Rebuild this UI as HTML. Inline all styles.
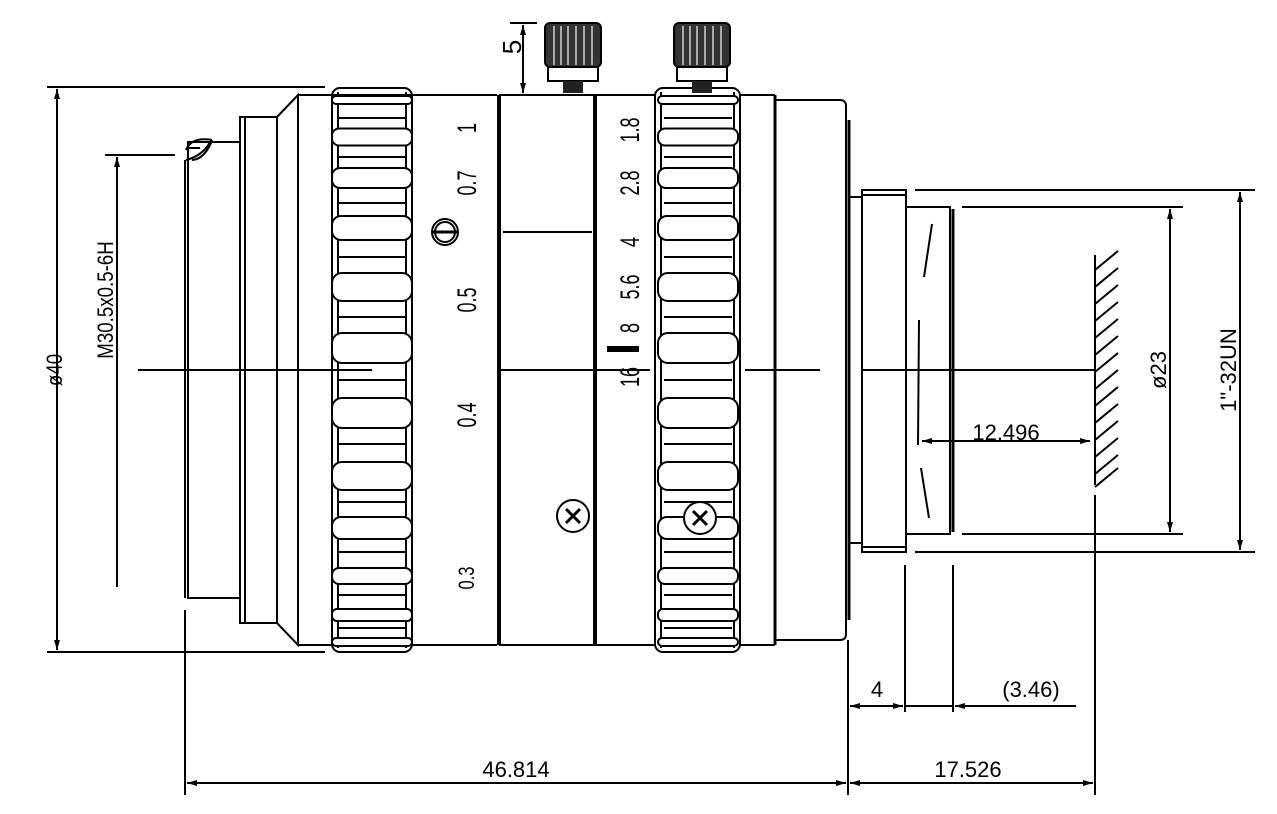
<!DOCTYPE html>
<html><head><meta charset="utf-8"><style>
html,body{margin:0;padding:0;background:#fff;}
svg{display:block;}
text{font-family:"Liberation Sans",sans-serif;fill:#000;}
</style></head><body>
<svg width="1277" height="814" viewBox="0 0 1277 814" xmlns="http://www.w3.org/2000/svg">
<defs>
<marker id="a" viewBox="0 0 10 6" refX="10" refY="3" markerWidth="10" markerHeight="6" orient="auto-start-reverse" markerUnits="userSpaceOnUse"><path d="M0,0 L10,3 L0,6 z" fill="#000"/></marker>
<g id="bumps" fill="#fff" stroke="#000" stroke-width="2">
<rect x="0" y="96" width="80" height="8" rx="4"/>
<rect x="0" y="128.5" width="80" height="17" rx="7"/>
<rect x="0" y="168" width="80" height="20" rx="8"/>
<rect x="0" y="216" width="80" height="24" rx="9"/>
<rect x="0" y="273" width="80" height="28" rx="10"/>
<rect x="0" y="333" width="80" height="30" rx="10"/>
<rect x="0" y="398" width="80" height="30" rx="10"/>
<rect x="0" y="462" width="80" height="28" rx="10"/>
<rect x="0" y="517" width="80" height="22" rx="9"/>
<rect x="0" y="568" width="80" height="16" rx="7"/>
<rect x="0" y="609" width="80" height="12" rx="5"/>
<rect x="0" y="638" width="80" height="8" rx="4"/>
<g stroke-width="2">
<line x1="6" y1="118" x2="74" y2="118"/><line x1="6" y1="157" x2="74" y2="157"/>
<line x1="6" y1="203" x2="74" y2="203"/><line x1="6" y1="257" x2="74" y2="257"/>
<line x1="6" y1="317" x2="74" y2="317"/><line x1="6" y1="380" x2="74" y2="380"/>
<line x1="6" y1="444" x2="74" y2="444"/><line x1="6" y1="502" x2="74" y2="502"/>
<line x1="6" y1="552" x2="74" y2="552"/><line x1="6" y1="595" x2="74" y2="595"/>
<line x1="6" y1="628" x2="74" y2="628"/>
</g>
</g>
<g id="knob">
<rect x="0" y="0" width="56" height="44" rx="5" fill="#333" stroke="#000" stroke-width="2"/>
<g stroke="#aaa" stroke-width="2"><line x1="9" y1="3" x2="9" y2="42"/><line x1="16" y1="3" x2="16" y2="42"/><line x1="23" y1="3" x2="23" y2="42"/><line x1="31" y1="3" x2="31" y2="42"/><line x1="39" y1="3" x2="39" y2="42"/><line x1="47" y1="3" x2="47" y2="42"/></g>
<rect x="3" y="44" width="50" height="14" fill="#fff" stroke="#000" stroke-width="2"/>
<rect x="18" y="58" width="20" height="12" fill="#222"/>
</g>
</defs>

<g fill="none" stroke="#000" stroke-width="2">
<line x1="47" y1="87" x2="325" y2="87"/>
<line x1="47" y1="652" x2="325" y2="652"/>
<line x1="57" y1="89" x2="57" y2="650" marker-start="url(#a)" marker-end="url(#a)"/>
<line x1="105" y1="155" x2="175" y2="155"/>
<line x1="117" y1="157" x2="117" y2="587" marker-start="url(#a)"/>
<path d="M188,142 L240,142 L240,598 L188,598 Z"/>
<line x1="185" y1="160" x2="185" y2="598"/>
<path d="M186,150 C190,140 200,138 212,140 M186,160 C195,158 205,152 210,142 M188,148 L200,148 M192,160 C200,160 208,152 212,140"/>
<rect x="240" y="117" width="37" height="506"/>
<line x1="245" y1="117" x2="245" y2="623"/>
<path d="M277,117 L298,95 L298,645 L277,623"/>
<line x1="298" y1="95" x2="497" y2="95"/>
<line x1="298" y1="645" x2="497" y2="645"/>
<rect x="332" y="88" width="80" height="564" rx="8"/>
<line x1="338" y1="92" x2="338" y2="648"/>
<line x1="406" y1="92" x2="406" y2="648"/>
<line x1="499" y1="95" x2="499" y2="645" stroke-width="4"/>
<line x1="595" y1="95" x2="595" y2="645" stroke-width="4"/>
<line x1="499" y1="95" x2="655" y2="95"/>
<line x1="499" y1="645" x2="655" y2="645"/>
<line x1="503" y1="232" x2="592" y2="232"/>
<rect x="655" y="88" width="85" height="564" rx="8"/>
<line x1="661" y1="92" x2="661" y2="648"/>
<line x1="734" y1="92" x2="734" y2="648"/>
<line x1="740" y1="95" x2="775" y2="95"/>
<line x1="740" y1="645" x2="775" y2="645"/>
<line x1="775" y1="95" x2="775" y2="645" stroke-width="3"/>
<path d="M775,100 L840,100 Q846,100 846,106 L846,634 Q846,640 840,640 L775,640"/>
<line x1="849" y1="120" x2="849" y2="620" stroke-width="3"/>
<line x1="849" y1="197" x2="862" y2="197"/>
<line x1="849" y1="543" x2="862" y2="543"/>
<rect x="862" y="190" width="44" height="362"/>
<line x1="862" y1="195" x2="906" y2="195"/>
<line x1="862" y1="547" x2="906" y2="547"/>
<path d="M906,207 L950,207 L950,534 L906,534"/>
<line x1="953" y1="209" x2="953" y2="532" stroke-width="3"/>
<line x1="932" y1="224" x2="924" y2="277"/>
<line x1="919" y1="320" x2="918" y2="445"/>
<line x1="921" y1="468" x2="929" y2="518"/>
<line x1="915" y1="190" x2="1255" y2="190"/>
<line x1="915" y1="552" x2="1255" y2="552"/>
<line x1="962" y1="207" x2="1183" y2="207"/>
<line x1="962" y1="534" x2="1183" y2="534"/>
<line x1="1170" y1="209" x2="1170" y2="532" marker-start="url(#a)" marker-end="url(#a)"/>
<line x1="1240" y1="192" x2="1240" y2="550" marker-start="url(#a)" marker-end="url(#a)"/>
<line x1="1095" y1="255" x2="1095" y2="485"/>
<path d="M1095,270 L1118,251 M1095,287 L1118,268 M1095,304 L1118,285 M1095,321 L1118,302 M1095,338 L1118,319 M1095,355 L1118,336 M1095,372 L1118,353 M1095,389 L1118,370 M1095,406 L1118,387 M1095,423 L1118,404 M1095,440 L1118,421 M1095,457 L1118,438 M1095,474 L1118,455 M1095,487 L1118,468"/>
<line x1="922" y1="441" x2="1090" y2="441" marker-start="url(#a)" marker-end="url(#a)"/>
<line x1="138" y1="370" x2="372" y2="370"/>
<line x1="500" y1="370" x2="650" y2="370"/>
<line x1="745" y1="370" x2="820" y2="370"/>
<line x1="862" y1="370" x2="1095" y2="370"/>
<line x1="510" y1="23" x2="537" y2="23"/>
<line x1="523" y1="25" x2="523" y2="93" marker-start="url(#a)" marker-end="url(#a)"/>
<line x1="185" y1="610" x2="185" y2="795"/>
<line x1="848" y1="640" x2="848" y2="795"/>
<line x1="905" y1="565" x2="905" y2="712"/>
<line x1="953" y1="565" x2="953" y2="712"/>
<line x1="1095" y1="495" x2="1095" y2="795"/>
<line x1="850" y1="706" x2="903" y2="706" marker-start="url(#a)" marker-end="url(#a)"/>
<line x1="905" y1="706" x2="953" y2="706"/>
<line x1="955" y1="706" x2="1076" y2="706" marker-start="url(#a)"/>
<line x1="187" y1="783" x2="846" y2="783" marker-start="url(#a)" marker-end="url(#a)"/>
<line x1="850" y1="783" x2="1093" y2="783" marker-start="url(#a)" marker-end="url(#a)"/>
<circle cx="445" cy="232" r="13"/>
<circle cx="445" cy="232" r="10"/>
<line x1="433" y1="232" x2="457" y2="232" stroke-width="3"/>
<circle cx="573" cy="516" r="16"/>
<path d="M566,509 L580,523 M580,509 L566,523" stroke-width="3"/>
</g>
<use href="#bumps" x="332"/>
<use href="#bumps" x="658"/>
<circle cx="700" cy="518" r="16" fill="#fff" stroke="#000" stroke-width="2"/>
<path d="M693,511 L707,525 M707,511 L693,525" stroke="#000" stroke-width="3"/>
<use href="#knob" x="545" y="23"/>
<use href="#knob" x="674" y="23"/>
<rect x="607" y="346" width="32" height="6" fill="#000"/>

<g font-size="22">
<text transform="translate(62,370) rotate(-90) scale(0.85,1)" text-anchor="middle">ø40</text>
<text transform="translate(113,300) rotate(-90) scale(0.85,1)" text-anchor="middle">M30.5x0.5-6H</text>
<text transform="translate(521,47) rotate(-90)" text-anchor="middle" font-size="26">5</text>
<g font-size="30">
<text transform="translate(476,128) rotate(-90) scale(0.6,0.9)" text-anchor="middle">1</text>
<text transform="translate(476,183) rotate(-90) scale(0.6,0.9)" text-anchor="middle">0.7</text>
<text transform="translate(476,300) rotate(-90) scale(0.6,0.9)" text-anchor="middle">0.5</text>
<text transform="translate(476,415) rotate(-90) scale(0.6,0.9)" text-anchor="middle">0.4</text>
<text transform="translate(474,578) rotate(-90) scale(0.55,0.75)" text-anchor="middle">0.3</text>
<text transform="translate(639,130) rotate(-90) scale(0.6,0.9)" text-anchor="middle">1.8</text>
<text transform="translate(639,183) rotate(-90) scale(0.6,0.9)" text-anchor="middle">2.8</text>
<text transform="translate(639,242) rotate(-90) scale(0.6,0.9)" text-anchor="middle">4</text>
<text transform="translate(639,287) rotate(-90) scale(0.6,0.9)" text-anchor="middle">5.6</text>
<text transform="translate(639,328) rotate(-90) scale(0.6,0.9)" text-anchor="middle">8</text>
<text transform="translate(639,377) rotate(-90) scale(0.6,0.9)" text-anchor="middle">16</text>
</g>
<text x="1006" y="440" text-anchor="middle">12.496</text>
<text transform="translate(1166,370) rotate(-90)" text-anchor="middle">ø23</text>
<text transform="translate(1236,370) rotate(-90)" text-anchor="middle">1"-32UN</text>
<text x="877" y="697" text-anchor="middle">4</text>
<text x="1031" y="697" text-anchor="middle">(3.46)</text>
<text x="516" y="777" text-anchor="middle">46.814</text>
<text x="968" y="777" text-anchor="middle">17.526</text>
</g>
</svg>
</body></html>
